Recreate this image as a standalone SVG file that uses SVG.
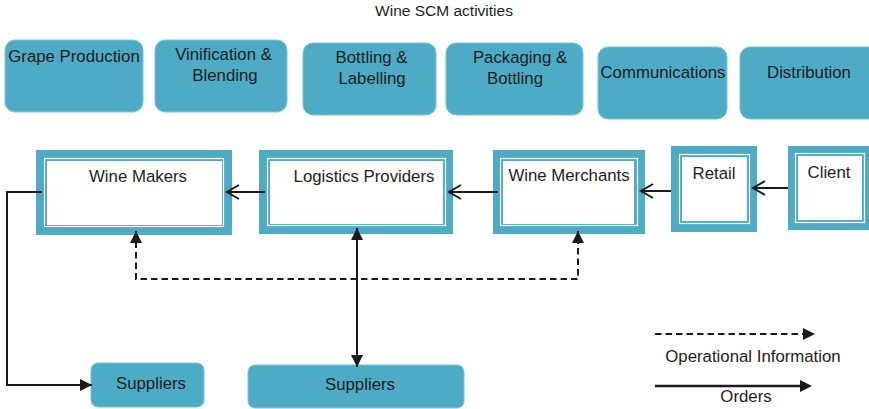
<svg xmlns="http://www.w3.org/2000/svg" width="869" height="409" viewBox="0 0 869 409">
  <style>
    text { font-family: "Liberation Sans", Arial, sans-serif; fill: #1e1e1e; text-anchor: middle; }
    .lbl { font-size: 16.8px; }
    .title { font-size: 15.5px; }
    .act { fill: #4eabc5; stroke: #78c2d6; stroke-width: 1; }
    .outer { fill: #4eabc5; }
    .gap { fill: none; stroke: #ffffff; stroke-width: 1.2; }
    .inner { fill: #ffffff; }
    .line { fill: none; stroke: #1a1a1a; stroke-width: 2; }
    .dash { fill: none; stroke: #1a1a1a; stroke-width: 2; stroke-dasharray: 6.5 4; }
    .open { fill: none; stroke: #1a1a1a; stroke-width: 2; }
  </style>
  <defs>
    <marker id="tri" viewBox="0 0 12 12" refX="12" refY="6" markerWidth="12" markerHeight="12" markerUnits="userSpaceOnUse" orient="auto">
      <path d="M0,0 L12,6 L0,12 Z" fill="#1a1a1a"/>
    </marker>
    <marker id="triStart" viewBox="0 0 12 12" refX="0" refY="6" markerWidth="12" markerHeight="12" markerUnits="userSpaceOnUse" orient="auto">
      <path d="M12,0 L0,6 L12,12 Z" fill="#1a1a1a"/>
    </marker>
  </defs>

  <text class="title" x="444" y="16">Wine SCM activities</text>

  <!-- activity row -->
  <g id="grape-production">
    <rect class="act" x="5" y="40" width="138" height="72" rx="10"/>
    <text class="lbl" x="74" y="62">Grape Production</text>
  </g>
  <g id="vinification">
    <rect class="act" x="155" y="40" width="132" height="72" rx="10"/>
    <text class="lbl" x="223.5" y="60">Vinification &amp;</text>
    <text class="lbl" x="225" y="81">Blending</text>
  </g>
  <g id="bottling-labelling">
    <rect class="act" x="303" y="43" width="133" height="72" rx="10"/>
    <text class="lbl" x="371.5" y="63">Bottling &amp;</text>
    <text class="lbl" x="372" y="84">Labelling</text>
  </g>
  <g id="packaging-bottling">
    <rect class="act" x="446" y="43" width="137" height="72" rx="10"/>
    <text class="lbl" x="520" y="63">Packaging &amp;</text>
    <text class="lbl" x="515" y="84">Bottling</text>
  </g>
  <g id="communications">
    <rect class="act" x="598" y="47" width="129" height="72" rx="10"/>
    <text class="lbl" x="663" y="78">Communications</text>
  </g>
  <g id="distribution">
    <rect class="act" x="740" y="47" width="140" height="72" rx="10"/>
    <text class="lbl" x="809" y="78">Distribution</text>
  </g>

  <!-- supply chain actors -->
  <g id="wine-makers">
    <rect class="outer" x="36" y="150" width="196" height="85"/>
    <rect class="gap" x="44.5" y="158.5" width="179" height="68"/>
    <rect class="inner" x="47" y="161" width="175" height="64"/>
    <text class="lbl" x="138" y="182">Wine Makers</text>
  </g>
  <g id="logistics-providers">
    <rect class="outer" x="259" y="150" width="194" height="84"/>
    <rect class="gap" x="267.5" y="158.5" width="178" height="67"/>
    <rect class="inner" x="270" y="161" width="173" height="63"/>
    <text class="lbl" x="364" y="182">Logistics Providers</text>
  </g>
  <g id="wine-merchants">
    <rect class="outer" x="493" y="150" width="152" height="84"/>
    <rect class="gap" x="500.5" y="158.5" width="137" height="67"/>
    <rect class="inner" x="503" y="161" width="131" height="63"/>
    <text class="lbl" x="569" y="181">Wine Merchants</text>
  </g>
  <g id="retail">
    <rect class="outer" x="671" y="146" width="86" height="86"/>
    <rect class="gap" x="679.5" y="154.5" width="70" height="69"/>
    <rect class="inner" x="682" y="157" width="65" height="64"/>
    <text class="lbl" x="714" y="179">Retail</text>
  </g>
  <g id="client">
    <rect class="outer" x="788" y="146" width="81" height="84"/>
    <rect class="gap" x="795.5" y="153.5" width="69" height="69"/>
    <rect class="inner" x="798" y="156" width="64" height="64"/>
    <text class="lbl" x="829" y="178">Client</text>
  </g>

  <!-- suppliers -->
  <g id="suppliers-1">
    <rect class="act" x="91" y="363" width="113" height="44" rx="7"/>
    <text class="lbl" x="151" y="389">Suppliers</text>
  </g>
  <g id="suppliers-2">
    <rect class="act" x="248" y="365" width="216" height="43" rx="7"/>
    <text class="lbl" x="360" y="390">Suppliers</text>
  </g>

  <!-- legend -->
  <g id="legend">
    <line class="dash" x1="655" y1="334" x2="803" y2="334"/>
    <path d="M803,328 L815,334 L803,340 Z" fill="#1a1a1a"/>
    <text class="lbl" x="753" y="362">Operational Information</text>
    <line class="line" x1="655" y1="386" x2="800" y2="386" style="stroke-width:2.5"/>
    <path d="M800,380 L812,386 L800,392 Z" fill="#1a1a1a"/>
    <text class="lbl" x="746" y="402">Orders</text>
  </g>

  <!-- connectors -->
  <g id="connectors">
    <!-- orders flow, right to left -->
    <line class="line" x1="788" y1="188" x2="753" y2="188"/>
    <path class="open" d="M765,181 L753,188 L765,195"/>
    <line class="line" x1="671" y1="191" x2="641" y2="191"/>
    <path class="open" d="M653,184 L641,191 L653,198"/>
    <line class="line" x1="498" y1="192" x2="449" y2="192"/>
    <path class="open" d="M461,185 L449,192 L461,199"/>
    <line class="line" x1="265" y1="192" x2="227" y2="192"/>
    <path class="open" d="M239,185 L227,192 L239,199"/>

    <!-- wine makers to suppliers -->
    <polyline class="line" points="42,192 7,192 7,385 92,385" marker-end="url(#tri)"/>

    <!-- logistics providers to suppliers -->
    <line class="line" x1="357" y1="228" x2="357" y2="367" marker-start="url(#triStart)" marker-end="url(#tri)"/>

    <!-- operational information -->
    <polyline class="dash" points="136,231 136,279 578,279 578,231"/>
    <path d="M130,243 L136,231 L142,243 Z" fill="#1a1a1a"/>
    <path d="M572,243 L578,231 L584,243 Z" fill="#1a1a1a"/>
  </g>
</svg>
